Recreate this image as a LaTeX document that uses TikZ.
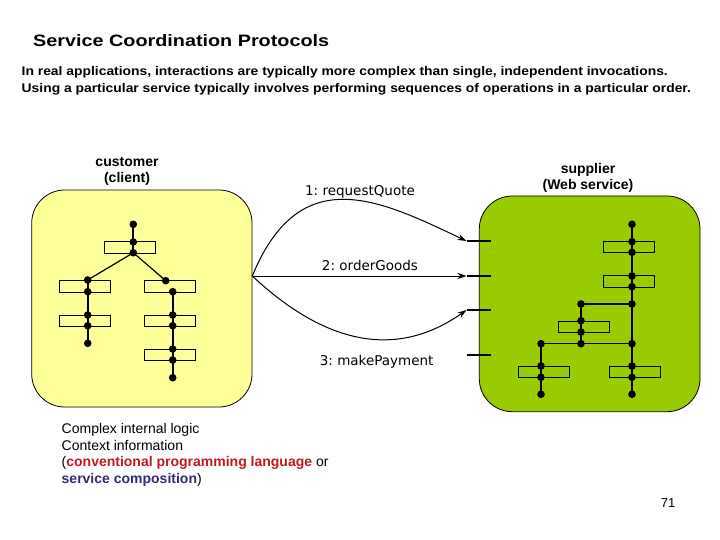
\documentclass[tikz,border=0pt]{standalone}
\usepackage{fontspec}
\setmainfont{Liberation Sans}
\newfontfamily\labfont{DejaVu Sans}
\usetikzlibrary{arrows.meta}
\definecolor{clientfill}{RGB}{255,255,153}
\definecolor{supfill}{RGB}{153,204,0}
\definecolor{redtxt}{RGB}{192,24,32}
\definecolor{bluetxt}{RGB}{44,44,120}
\begin{document}
\begin{tikzpicture}[x=1pt,y=-1pt,
  dot/.style={circle,fill=black,inner sep=0pt,minimum size=7.6pt},
  opbox/.style={draw=black,line width=0.8pt,inner sep=0pt,minimum width=51pt,minimum height=11.6pt},
  party/.style={draw=black,line width=0.8pt,rounded corners=33pt,inner sep=0pt},
  link/.style={line width=2pt},
  thinlink/.style={line width=1.2pt},
  msg/.style={line width=1pt,-{Stealth[length=9pt,width=6pt]}},
  stub/.style={line width=1.8pt},
  lab/.style={font=\labfont\fontsize{13.5}{16}\selectfont,inner sep=0pt},
  heading/.style={font=\bfseries\fontsize{14}{16.5}\selectfont,align=center,inner sep=0pt},
  introline/.style={anchor=west,inner sep=0pt,font=\bfseries\fontsize{12.5}{15}\selectfont},
]
\useasboundingbox (0,0) rectangle (720,540);

% title and intro
\node[anchor=west,inner sep=0pt,font=\bfseries\fontsize{16.5}{20}\selectfont] (title) at (33,41)
  {\scalebox{1.2}[1]{Service Coordination Protocols}};
\node[introline] (intro1) at (21.5,72)
  {\scalebox{1.11}[1]{In real applications, interactions are typically more complex than single, independent invocations.}};
\node[introline] (intro2) at (21.5,89)
  {\scalebox{1.11}[1]{Using a particular service typically involves performing sequences of operations in a particular order.}};

% party boxes
\node[party,fill=clientfill,minimum width=220.3pt,minimum height=217pt] (client) at (141.85,298.5) {};
\node[party,fill=supfill,minimum width=220.7pt,minimum height=215.7pt] (supplier) at (589.65,303.85) {};

\node[heading] (clab) at (127,171.5) {customer\\(client)};
\node[heading] (slab) at (588,178) {supplier\\(Web service)};

% client internal logic
\node[opbox] (c1) at (130.3,247.3) {};
\node[opbox] (c2) at (84.8,286.5) {};
\node[opbox] (c3) at (84.8,320.8) {};
\node[opbox] (c4) at (169.8,286.5) {};
\node[opbox] (c5) at (169.8,320.8) {};
\node[opbox] (c6) at (169.8,354.8) {};

\node[dot] (ca) at (133.3,224.3) {};
\node[dot] (cb) at (133.3,242) {};
\node[dot] (cc) at (133.3,252.7) {};
\node[dot] (cd) at (87.7,280) {};
\node[dot] (ce) at (87.7,291.7) {};
\node[dot] (cf) at (87.7,315) {};
\node[dot] (cg) at (87.7,325.7) {};
\node[dot] (ch) at (87.7,343.3) {};
\node[dot] (ci) at (165.7,280.7) {};
\node[dot] (cj) at (172.7,291.7) {};
\node[dot] (ck) at (172.7,315) {};
\node[dot] (cl) at (172.7,325.7) {};
\node[dot] (cm) at (172.7,349) {};
\node[dot] (cn) at (172.7,360) {};
\node[dot] (co) at (172.7,377.7) {};

\draw[link] (ca.center) -- (cb.center) -- (cc.center);
\draw[thinlink] (cd.center) -- (cc.center) -- (ci.center);
\draw[link] (cd.center) -- (ce.center) -- (cf.center) -- (cg.center) -- (ch.center);
\draw[link] (cj.center) -- (ck.center) -- (cl.center) -- (cm.center) -- (cn.center) -- (co.center);

% supplier internal logic
\node[opbox] (sA) at (628.8,247) {};
\node[opbox] (sB) at (628.8,281.3) {};
\node[opbox] (sC) at (583.8,327) {};
\node[opbox] (sD) at (543.8,371.8) {};
\node[opbox] (sE) at (635,371.8) {};

\node[dot] (sa) at (632,224.3) {};
\node[dot] (sb) at (632,241.7) {};
\node[dot] (sc) at (632,252.3) {};
\node[dot] (sd) at (632,276) {};
\node[dot] (se) at (632,286.7) {};
\node[dot] (sf) at (632,304) {};
\node[dot] (sg) at (581,304) {};
\node[dot] (sh) at (581,320.7) {};
\node[dot] (si) at (581,332) {};
\node[dot] (sj) at (581,343.7) {};
\node[dot] (sk) at (541,343.7) {};
\node[dot] (sl) at (632,343.7) {};
\node[dot] (sm) at (541,366) {};
\node[dot] (sn) at (541,377.3) {};
\node[dot] (so) at (541,394.3) {};
\node[dot] (sp) at (632,366) {};
\node[dot] (sq) at (632,377.3) {};
\node[dot] (sr) at (632,394.3) {};

\draw[link] (sa.center) -- (sb.center) -- (sc.center) -- (sd.center) -- (se.center) -- (sf.center)
   -- (sl.center) -- (sp.center) -- (sq.center) -- (sr.center);
\draw[link] (sf.center) -- (sg.center) -- (sh.center) -- (si.center) -- (sj.center);
\draw[thinlink] (sk.center) -- (sl.center);
\draw[thinlink] (sk.center) -- (sm.center) -- (sn.center) -- (so.center);

% ports
\coordinate (p1) at (466.5,241);
\coordinate (p2) at (466.5,276);
\coordinate (p3) at (466.5,310);
\coordinate (p4) at (466.5,355);
\coordinate (q1) at (490.7,241);
\coordinate (q2) at (490.7,276);
\coordinate (q3) at (490.7,310);
\coordinate (q4) at (490.7,355);
\draw[stub] (p1) -- (q1);
\draw[stub] (p2) -- (q2);
\draw[stub] (p3) -- (q3);
\draw[stub] (p4) -- (q4);

% messages
\coordinate (src) at (252.3,276);
\draw[msg] (src) .. controls (300,160) and (380,200) .. (p1);
\draw[msg] (src) -- (p2);
\draw[msg] (src) .. controls (340,358) and (410,350) .. (p3);

\node[lab] (m1) at (360,191.5) {1:\ requestQuote};
\node[lab] (m2) at (370,265.5) {2:\ orderGoods};
\node[lab] (m3) at (376.7,361.5) {3:\ makePayment};

% bottom note
\node[anchor=north west,inner sep=0pt,align=left,font=\fontsize{14}{16.7}\selectfont] (note) at (61.5,423)
  {Complex internal logic\\
   Context information\\
   ({\color{redtxt}\bfseries conventional programming language} or\\
   {\color{bluetxt}\bfseries service composition})};

\node[inner sep=0pt,font=\fontsize{13}{15}\selectfont] (page) at (668,503) {71};
\end{tikzpicture}
\end{document}
